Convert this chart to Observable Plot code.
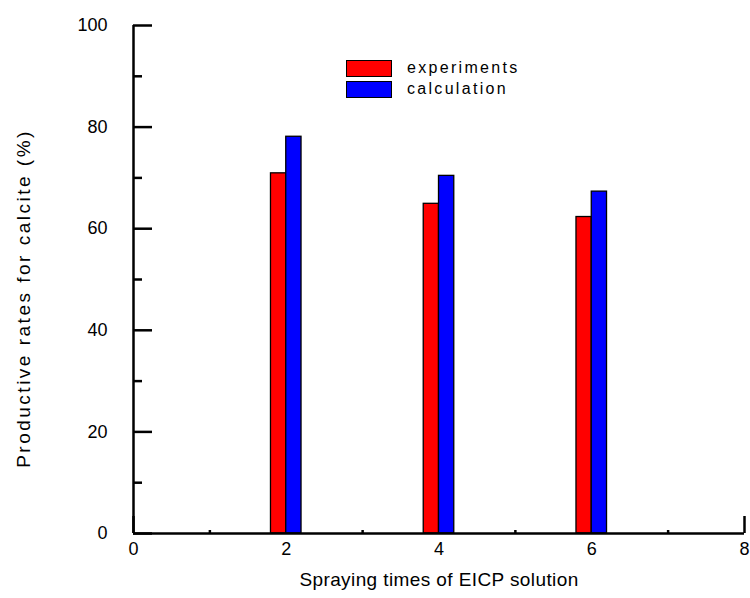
<!DOCTYPE html>
<html>
<head>
<meta charset="utf-8">
<script src="https://cdn.jsdelivr.net/npm/d3@7"></script>
<script src="https://cdn.jsdelivr.net/npm/@observablehq/plot@0.6"></script>
<style>
  html, body { margin: 0; padding: 0; background: #fff; }
  #wrap { position: relative; width: 750px; height: 598px; font-family: "Liberation Sans", Arial, sans-serif; }
  .legend { position: absolute; left: 346px; top: 58px; font-size: 16px; letter-spacing: 2.3px; color: #000; }
  .legend .row { display: flex; align-items: center; height: 20px; margin-bottom: 1px; }
  .legend .sw { width: 46px; height: 17px; border: 1px solid #000; box-sizing: border-box; margin-right: 15px; }
</style>
</head>
<body>
<div id="wrap"></div>
<script>
const sprayTimes = [2, 4, 6];
const experiments = [70.9, 64.9, 62.3];
const calculation = [78.1, 70.4, 67.3];
const seriesNames = ["experiments", "calculation"];
const seriesColors = ["#ff0000", "#0000ff"];
const xTicks = [0, 2, 4, 6, 8];
const xMinor = [1, 3, 5, 7];
const yTicks = [0, 20, 40, 60, 80, 100];
const yMinor = [10, 30, 50, 70, 90];
const barWidth = 0.2;
const xLabel = "Spraying times of EICP solution";
const yLabel = "Productive rates for calcite (%)";

const rows = [];
sprayTimes.forEach((t, i) => {
  rows.push({series: seriesNames[0], x1: t - barWidth, x2: t, y: experiments[i]});
  rows.push({series: seriesNames[1], x1: t, x2: t + barWidth, y: calculation[i]});
});

const font = "Liberation Sans, Arial, sans-serif";
const chart = Plot.plot({
  width: 750,
  height: 598,
  marginLeft: 133,
  marginRight: 6,
  marginTop: 25,
  marginBottom: 65,
  style: {fontFamily: font, fontSize: "18px", background: "#fff", color: "#000"},
  x: {domain: [0, 8]},
  y: {domain: [0, 100]},
  color: {domain: seriesNames, range: seriesColors},
  marks: [
    Plot.axisY({ticks: yTicks, tickSize: -19, tickFormat: () => "", label: null, strokeWidth: 2.5}),
    Plot.axisY({ticks: yMinor, tickSize: -9, tickFormat: () => "", label: null, strokeWidth: 2.5}),
    Plot.axisY({ticks: yTicks, tickSize: 0, tickPadding: 26, fontSize: 18, label: null}),
    Plot.axisX({ticks: xTicks, tickSize: -17, tickFormat: () => "", label: null, strokeWidth: 2.5}),
    Plot.axisX({ticks: xMinor, tickSize: -3, tickFormat: () => "", label: null, strokeWidth: 2.5}),
    Plot.axisX({ticks: xTicks, tickSize: 0, tickPadding: 9, fontSize: 18, label: null}),
    Plot.rect(rows, {x1: "x1", x2: "x2", y1: 0, y2: "y", fill: "series", stroke: "#000", strokeWidth: 1.3}),
    Plot.ruleX([0], {strokeWidth: 2.5}),
    Plot.ruleY([0], {strokeWidth: 2.5}),
    Plot.text([xLabel], {frameAnchor: "bottom", dy: 52, fontSize: 19, text: d => d}),
    Plot.text([yLabel], {frameAnchor: "left", dx: -110, dy: 19, rotate: -90, textAnchor: "middle", fontSize: 19, text: d => d})
  ]
});
chart.querySelectorAll("text").forEach(t => {
  if (t.textContent === yLabel) t.setAttribute("letter-spacing", "2.5");
  if (t.textContent === xLabel) t.setAttribute("letter-spacing", "0.4");
});
const wrap = document.getElementById("wrap");
wrap.appendChild(chart);

const legend = document.createElement("div");
legend.className = "legend";
seriesNames.forEach((n, i) => {
  const row = document.createElement("div");
  row.className = "row";
  const sw = document.createElement("div");
  sw.className = "sw";
  sw.style.background = seriesColors[i];
  const lab = document.createElement("span");
  lab.textContent = n;
  row.appendChild(sw);
  row.appendChild(lab);
  legend.appendChild(row);
});
wrap.appendChild(legend);
</script>
</body>
</html>
